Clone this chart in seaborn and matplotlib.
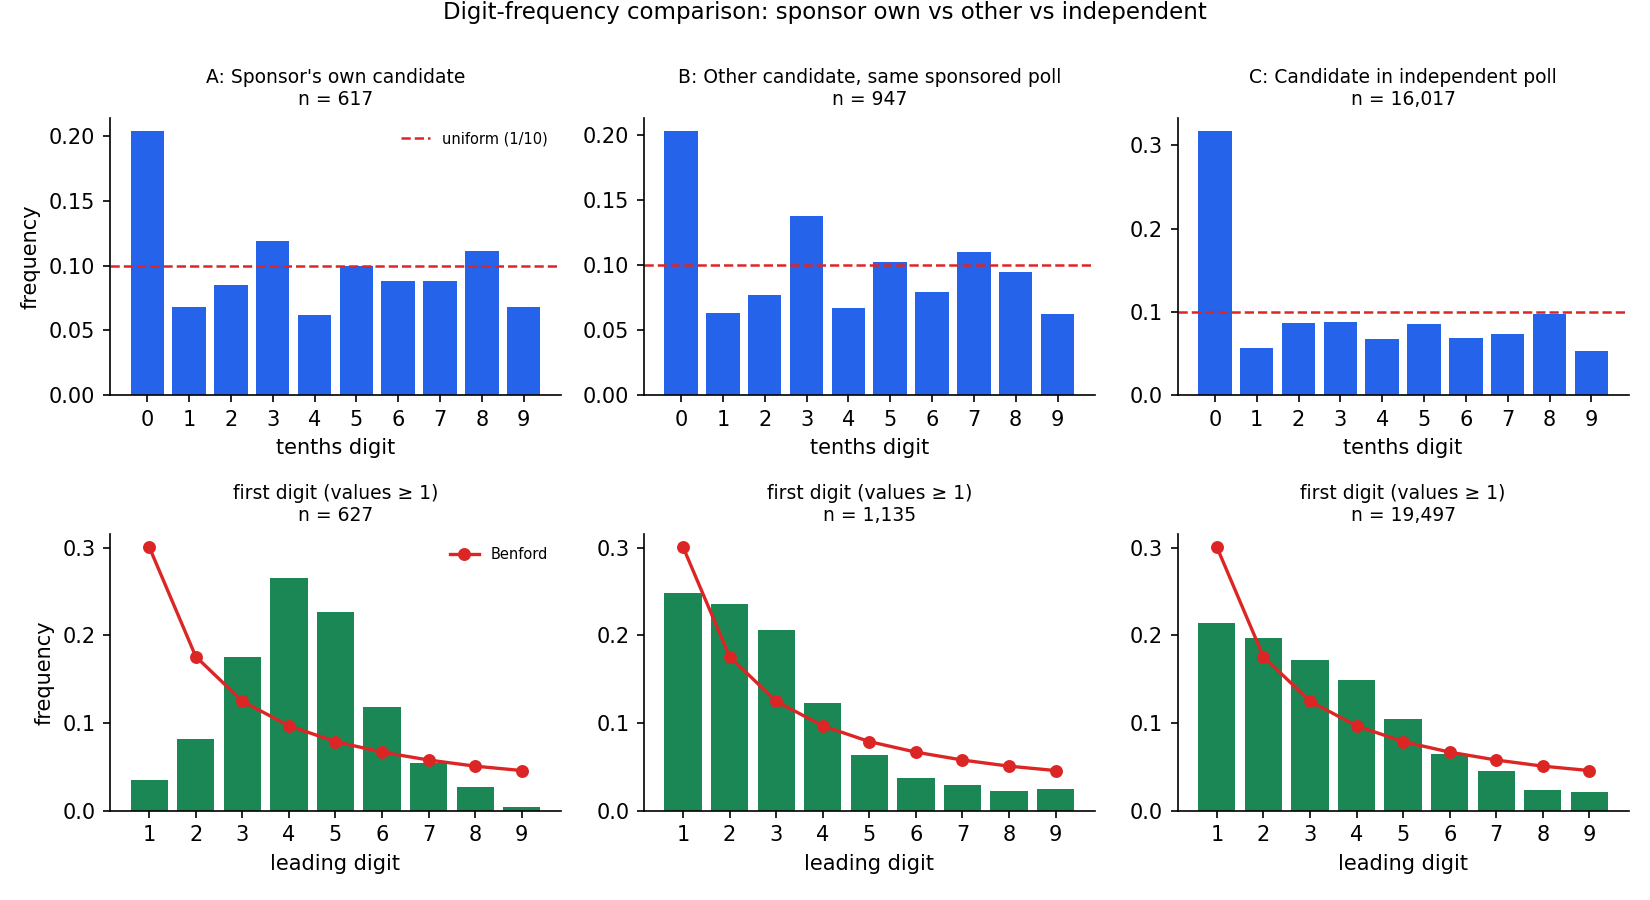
import numpy as np
import pandas as pd
import matplotlib
matplotlib.use("Agg")
import matplotlib.pyplot as plt
import seaborn as sns

# ---- data ----
tenths_digits = ["0", "1", "2", "3", "4", "5", "6", "7", "8", "9"]
leading_digits = ["1", "2", "3", "4", "5", "6", "7", "8", "9"]

panel_titles = ["A: Sponsor's own candidate",
                "B: Other candidate, same sponsored poll",
                "C: Candidate in independent poll"]
tenths_n = ["617", "947", "16,017"]
leading_n = ["627", "1,135", "19,497"]

tenths_A = [0.204, 0.068, 0.085, 0.119, 0.062, 0.100, 0.088, 0.088, 0.111, 0.068]
tenths_B = [0.203, 0.063, 0.077, 0.138, 0.067, 0.102, 0.079, 0.110, 0.095, 0.062]
tenths_C = [0.317, 0.056, 0.087, 0.088, 0.067, 0.085, 0.069, 0.073, 0.097, 0.053]

leading_A = [0.035, 0.082, 0.176, 0.265, 0.227, 0.118, 0.055, 0.027, 0.004]
leading_B = [0.248, 0.236, 0.206, 0.123, 0.064, 0.037, 0.029, 0.023, 0.025]
leading_C = [0.214, 0.197, 0.172, 0.149, 0.105, 0.065, 0.045, 0.024, 0.021]

benford = [0.301, 0.176, 0.125, 0.097, 0.079, 0.067, 0.058, 0.051, 0.046]
uniform_level = 0.1

BLUE = "#2563EB"
GREEN = "#1B8754"
RED = "#DC2626"

plt.rcParams["font.family"] = ["DejaVu Sans"]

TITLE_FS = 9
TICK_FS = 10
LABEL_FS = 10
LEG_FS = 7

fig, axes = plt.subplots(2, 3, figsize=(11, 6), dpi=150)
fig.subplots_adjust(left=0.0667, right=0.987, top=0.869, bottom=0.099,
                    wspace=0.184, hspace=0.50)

tenths_all = [tenths_A, tenths_B, tenths_C]
leading_all = [leading_A, leading_B, leading_C]

for i in range(3):
    ax = axes[0, i]
    df = pd.DataFrame({"digit": tenths_digits, "freq": tenths_all[i]})
    sns.barplot(data=df, x="digit", y="freq", color=BLUE, saturation=1,
                width=0.8, linewidth=0, ax=ax)
    ax.axhline(uniform_level, color=RED, linestyle="--", linewidth=1.2,
               label="uniform (1/10)")
    ax.set_xlim(-0.89, 9.89)
    ax.set_title(f"{panel_titles[i]}\nn = {tenths_n[i]}", fontsize=TITLE_FS)
    ax.set_xlabel("tenths digit", fontsize=LABEL_FS)
    ax.set_ylabel("frequency" if i == 0 else "", fontsize=LABEL_FS)
    ax.tick_params(labelsize=TICK_FS)
    if i == 0:
        ax.legend(loc="upper right", frameon=False, fontsize=LEG_FS)
    sns.despine(ax=ax)

    ax = axes[1, i]
    df = pd.DataFrame({"digit": leading_digits, "freq": leading_all[i]})
    sns.barplot(data=df, x="digit", y="freq", color=GREEN, saturation=1,
                width=0.8, linewidth=0, ax=ax)
    dfb = pd.DataFrame({"digit": leading_digits, "freq": benford})
    sns.pointplot(data=dfb, x="digit", y="freq", color=RED, markers="o",
                  markersize=5, linewidth=1.6, ax=ax, label="Benford")
    ax.set_xlim(-0.84, 8.84)
    ax.set_title(f"first digit (values \u2265 1)\nn = {leading_n[i]}", fontsize=TITLE_FS)
    ax.set_xlabel("leading digit", fontsize=LABEL_FS)
    ax.set_ylabel("frequency" if i == 0 else "", fontsize=LABEL_FS)
    ax.set_yticks([0.0, 0.1, 0.2, 0.3])
    ax.tick_params(labelsize=TICK_FS)
    if i == 0:
        ax.legend(loc="upper right", frameon=False, fontsize=LEG_FS)
    else:
        lg = ax.get_legend()
        if lg is not None:
            lg.remove()
    sns.despine(ax=ax)

axes[0, 2].set_yticks([0.0, 0.1, 0.2, 0.3])

fig.suptitle("Digit-frequency comparison: sponsor own vs other vs independent",
             fontsize=11, y=0.999)

fig.savefig("out.png", dpi=150)
